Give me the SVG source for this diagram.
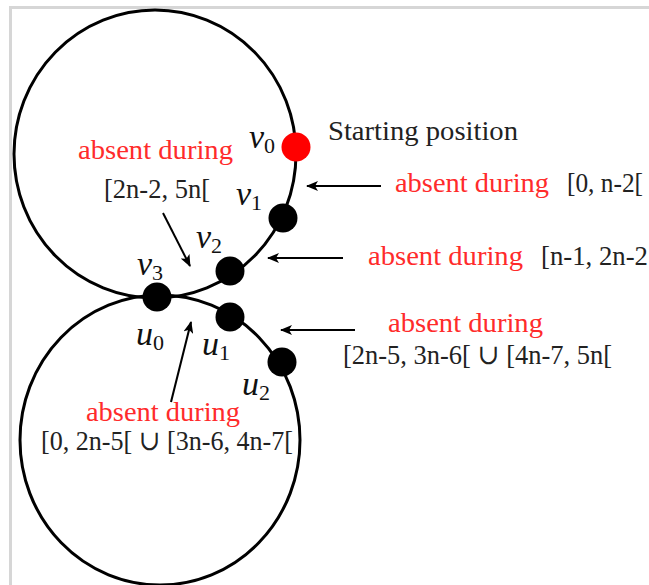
<svg xmlns="http://www.w3.org/2000/svg" width="649" height="585" viewBox="0 0 649 585">
<defs>
<marker id="ah" viewBox="0 0 12 10" refX="11" refY="5" markerWidth="12" markerHeight="10" markerUnits="userSpaceOnUse" orient="auto">
<path d="M0,0 L12,5 L0,10 L3,5 Z" fill="#000"/>
</marker>
</defs>
<style>
.frame{stroke:#d6d6d6;stroke-width:3;fill:none}
.cyc{fill:none;stroke:#000;stroke-width:3}
.dot{fill:#000}
.conn line{stroke:#000;stroke-width:2;marker-end:url(#ah)}
.t{font-family:"Liberation Serif","DejaVu Serif",serif;font-size:28px;fill:#222}
.r{font-family:"Liberation Serif","DejaVu Serif",serif;font-size:28px;fill:#ff2b2b}
.m{font-family:"Liberation Serif","DejaVu Serif",serif;font-size:34px;font-style:italic;fill:#111}
.s{font-size:22px;font-style:normal}
</style>
<rect width="649" height="585" fill="#fff"/>
<path class="frame" d="M10.5,585 V7.5 H649"/>
<g id="cycles">
<ellipse class="cyc" cx="155" cy="154" rx="141" ry="144"/>
<ellipse class="cyc" cx="160" cy="440" rx="140" ry="145"/>
</g>
<g id="v0"><circle cx="296" cy="147" r="14.5" fill="#ff0000"/><text class="m" x="249" y="148">v<tspan class="s" dy="5">0</tspan></text></g>
<g id="v1"><circle class="dot" cx="283" cy="218" r="14.5"/><text class="m" x="236" y="205">v<tspan class="s" dy="5">1</tspan></text></g>
<g id="v2"><circle class="dot" cx="230" cy="271" r="14.5"/><text class="m" x="196" y="248">v<tspan class="s" dy="5">2</tspan></text></g>
<g id="v3u0"><circle class="dot" cx="157" cy="297" r="14.5"/><text class="m" x="137" y="275">v<tspan class="s" dy="5">3</tspan></text><text class="m" x="136" y="345">u<tspan class="s" dy="5">0</tspan></text></g>
<g id="u1"><circle class="dot" cx="230" cy="317" r="14.5"/><text class="m" x="202" y="355">u<tspan class="s" dy="5">1</tspan></text></g>
<g id="u2"><circle class="dot" cx="282" cy="362" r="14.5"/><text class="m" x="242" y="395">u<tspan class="s" dy="5">2</tspan></text></g>
<g id="start"><text class="t" x="328" y="140" textLength="190" lengthAdjust="spacingAndGlyphs">Starting position</text></g>
<g id="lab-v3">
<text class="r" x="78" y="159" textLength="155" lengthAdjust="spacingAndGlyphs">absent during</text>
<text class="t" x="104" y="198" textLength="106" lengthAdjust="spacingAndGlyphs">[2n-2, 5n[</text>
</g>
<g id="lab-v1">
<text class="r" x="395" y="192" textLength="154" lengthAdjust="spacingAndGlyphs">absent during</text>
<text class="t" x="567" y="192" textLength="76" lengthAdjust="spacingAndGlyphs">[0, n-2[</text>
</g>
<g id="lab-v2">
<text class="r" x="368" y="265" textLength="155" lengthAdjust="spacingAndGlyphs">absent during</text>
<text class="t" x="541" y="265" textLength="107" lengthAdjust="spacingAndGlyphs">[n-1, 2n-2</text>
</g>
<g id="lab-u1">
<text class="r" x="388" y="332" textLength="155" lengthAdjust="spacingAndGlyphs">absent during</text>
<text class="t" x="343" y="364" textLength="269" lengthAdjust="spacingAndGlyphs">[2n-5, 3n-6[ ∪ [4n-7, 5n[</text>
</g>
<g id="lab-u0">
<text class="r" x="86" y="421" textLength="154" lengthAdjust="spacingAndGlyphs">absent during</text>
<text class="t" x="41" y="450" textLength="252" lengthAdjust="spacingAndGlyphs">[0, 2n-5[ ∪ [3n-6, 4n-7[</text>
</g>
<g id="connectors" class="conn">
<line x1="163" y1="213" x2="190" y2="266"/>
<line x1="381" y1="186" x2="307" y2="186"/>
<line x1="343" y1="258" x2="268" y2="258"/>
<line x1="355" y1="330" x2="281" y2="330"/>
<line x1="171" y1="402" x2="191" y2="322"/>
</g>
</svg>
